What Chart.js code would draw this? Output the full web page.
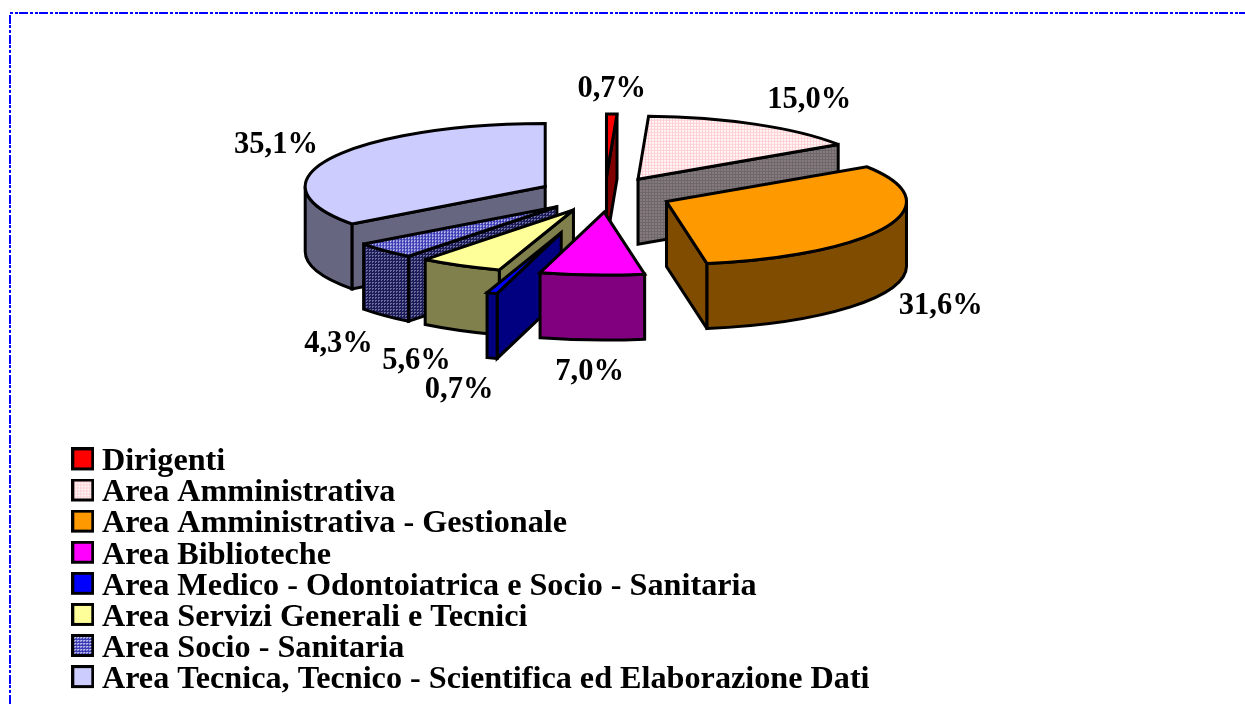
<!DOCTYPE html>
<html>
<head>
<meta charset="utf-8">
<style>html,body{margin:0;padding:0;background:#fff}canvas{display:block}</style>
<script src="https://cdn.jsdelivr.net/npm/chart.js@4"></script>
</head>
<body>
<canvas id="c" width="1245" height="704"></canvas>
<script>
const categories = ["Dirigenti","Area Amministrativa","Area Amministrativa - Gestionale","Area Biblioteche","Area Medico - Odontoiatrica e Socio - Sanitaria","Area Servizi Generali e Tecnici","Area Socio - Sanitaria","Area Tecnica, Tecnico - Scientifica ed Elaborazione Dati"];
const values = [0.7,15.0,31.6,7.0,0.7,5.6,4.3,35.1];
const topColors = ["#ff0000","#fff4f4","#ff9900","#ff00ff","#0000ff","#ffff99","#5a5ac8","#ccccff"];
const wallColors = ["#800000","#7f7578","#804d00","#800080","#000080","#80804d","#2e2e66","#666680"];
const explode = [67,67,67,67,152,67,67,67];
const sliceShiftX = [0,0,0,2.5,0,0,0,0];
const drawOrder = [0,1,7,6,5,4,3,2];
const labelNudges = [[0,-25],[53,-24],[54,80],[0,97],[-33,97],[-44,96],[-46,94],[-55,-13]];

const SQUASH = 0.2625, DEPTH = 65, RADIUS = 240, CY_SCREEN = 194.5;
const FONT = 'bold 30.5px "Liberation Serif"';

function tile(n, draw){
  const t=document.createElement('canvas'); t.width=t.height=n;
  draw(t.getContext('2d')); return t;
}
const gridTile = tile(3,g=>{g.fillStyle='#fffafa';g.fillRect(0,0,3,3);g.fillStyle='#ffcfd4';g.fillRect(0,0,3,1);g.fillRect(0,0,1,3);});
const dotTile = tile(3,g=>{g.fillStyle='#3a3ab4';g.fillRect(0,0,3,3);g.fillStyle='#c8c8f0';g.fillRect(0,0,2,1);g.fillRect(0,1,1,1);});
const wallGridTile = tile(3,g=>{g.fillStyle='#857b7e';g.fillRect(0,0,3,3);g.fillStyle='#6f686a';g.fillRect(0,0,3,1);g.fillRect(0,0,1,3);});
const wallDotTile = tile(3,g=>{g.fillStyle='#1c1c58';g.fillRect(0,0,3,3);g.fillStyle='#6c6c9c';g.fillRect(0,0,2,1);g.fillRect(0,1,1,1);});
const pctx = document.getElementById('c').getContext('2d');
function squashedPattern(t){
  const p=pctx.createPattern(t,'repeat');
  p.setTransform(new DOMMatrix().scale(1,1/SQUASH));
  return p;
}
function topFill(i){
  if(i===1) return squashedPattern(gridTile);
  if(i===6) return squashedPattern(dotTile);
  return topColors[i];
}
function wallFill(i){
  if(i===1) return pctx.createPattern(wallGridTile,'repeat');
  if(i===6) return pctx.createPattern(wallDotTile,'repeat');
  return wallColors[i];
}
function swatch(i){
  const s=document.createElement('canvas'); s.width=23; s.height=29;
  const g=s.getContext('2d');
  g.fillStyle=(i===1)?g.createPattern(gridTile,'repeat'):(i===6)?g.createPattern(dotTile,'repeat'):topColors[i];
  g.fillRect(0,0,23,23);
  g.lineWidth=3; g.strokeStyle='#000'; g.strokeRect(1.5,1.5,20,20);
  return s;
}

const pie3d = {
  id:'pie3d',
  afterLayout(chart){
    const l=chart.legend;
    l.left=80.9; l.right=1100; l.top=446.9; l.bottom=704; l.width=l.right-l.left; l.height=l.bottom-l.top;
    l.draw=function(){ this._draw(); };
  },
  beforeDraw(chart){
    const c=chart.ctx; c.save();
    c.strokeStyle='#0000ff'; c.lineWidth=2; c.setLineDash([9,2,3,2,3,1]);
    c.beginPath(); c.moveTo(10,704); c.lineTo(10,13); c.lineTo(1245,13); c.stroke();
    c.restore();
  },
  beforeDatasetDraw(chart,args){
    const c=chart.ctx, arcs=chart.getDatasetMeta(args.index).data;
    const offs=(arc,i)=>{ const m=(arc.startAngle+arc.endAngle)/2;
      return {cx:arc.x+Math.cos(m)*explode[i]+sliceShiftX[i], cy:CY_SCREEN+Math.sin(m)*explode[i]*SQUASH}; };
    const poly=(pts,fill)=>{
      c.beginPath(); pts.forEach((p,k)=>k?c.lineTo(p[0],p[1]):c.moveTo(p[0],p[1])); c.closePath();
      c.fillStyle=fill; c.fill(); c.stroke();
    };
    c.save();
    c.strokeStyle='#000'; c.lineWidth=3; c.lineJoin='miter'; c.miterLimit=3;
    drawOrder.forEach(i=>{
      const a=arcs[i], {cx,cy}=offs(a,i), R=a.outerRadius, Ry=R*SQUASH;
      const s=a.startAngle, e=a.endAngle;
      const pt=t=>[cx+Math.cos(t)*R, cy+Math.sin(t)*Ry];
      // radial side faces that look at the viewer
      [[s,-Math.cos(s)],[e,Math.cos(e)]].forEach(([t,n])=>{
        if(n>1e-6){ const p=pt(t);
          poly([[cx,cy],p,[p[0],p[1]+DEPTH],[cx,cy+DEPTH]],wallFill(i)); }
      });
      // front part of the outer wall
      const fs=Math.max(s,0), fe=Math.min(e,Math.PI);
      if(fe>fs){
        c.beginPath();
        c.ellipse(cx,cy,R,Ry,0,fs,fe,false);
        c.ellipse(cx,cy+DEPTH,R,Ry,0,fe,fs,true);
        c.closePath();
        c.fillStyle=wallFill(i); c.fill(); c.stroke();
      }
      // top face: the library's own arc element, flattened
      c.save();
      c.transform(1,0,0,SQUASH,0,cy-a.y*SQUASH);
      c.translate(cx-a.x,0);
      a.options.backgroundColor=topFill(i);
      a.draw(c);
      c.restore();
      c.beginPath();
      c.moveTo(cx,cy);
      c.ellipse(cx,cy,R,Ry,0,s,e,false);
      c.closePath(); c.stroke();
    });
    c.restore();
    return false;
  },
  afterDatasetsDraw(chart){
    const c=chart.ctx, arcs=chart.getDatasetMeta(0).data;
    c.save(); c.font=FONT; c.fillStyle='#000'; c.textAlign='center'; c.textBaseline='middle';
    arcs.forEach((a,i)=>{
      const m=(a.startAngle+a.endAngle)/2, d=explode[i]+a.outerRadius;
      const x=a.x+Math.cos(m)*d+labelNudges[i][0];
      const y=CY_SCREEN+Math.sin(m)*d*SQUASH+labelNudges[i][1];
      c.fillText(values[i].toFixed(1).replace('.',',')+'%',x,y);
    });
    c.restore();
  }
};

new Chart(document.getElementById('c'),{
  type:'pie',
  data:{labels:categories,datasets:[{data:values,backgroundColor:topColors,borderWidth:0,offset:0}]},
  options:{
    responsive:false,animation:false,events:[],radius:RADIUS,
    layout:{padding:{right:35}},
    plugins:{
      tooltip:{enabled:false},
      legend:{
        position:'chartArea',align:'start',
        labels:{
          font:{family:'"Liberation Serif"',size:32.2,weight:'bold',lineHeight:1},
          color:'#000',padding:-1.1,boxWidth:6,boxHeight:6,usePointStyle:true,
          generateLabels:ch=>categories.map((t,i)=>({text:t,index:i,pointStyle:swatch(i),fillStyle:'#fff',strokeStyle:'#000',lineWidth:0,hidden:false}))
        }
      }
    }
  },
  plugins:[pie3d]
});
</script>
</body>
</html>
